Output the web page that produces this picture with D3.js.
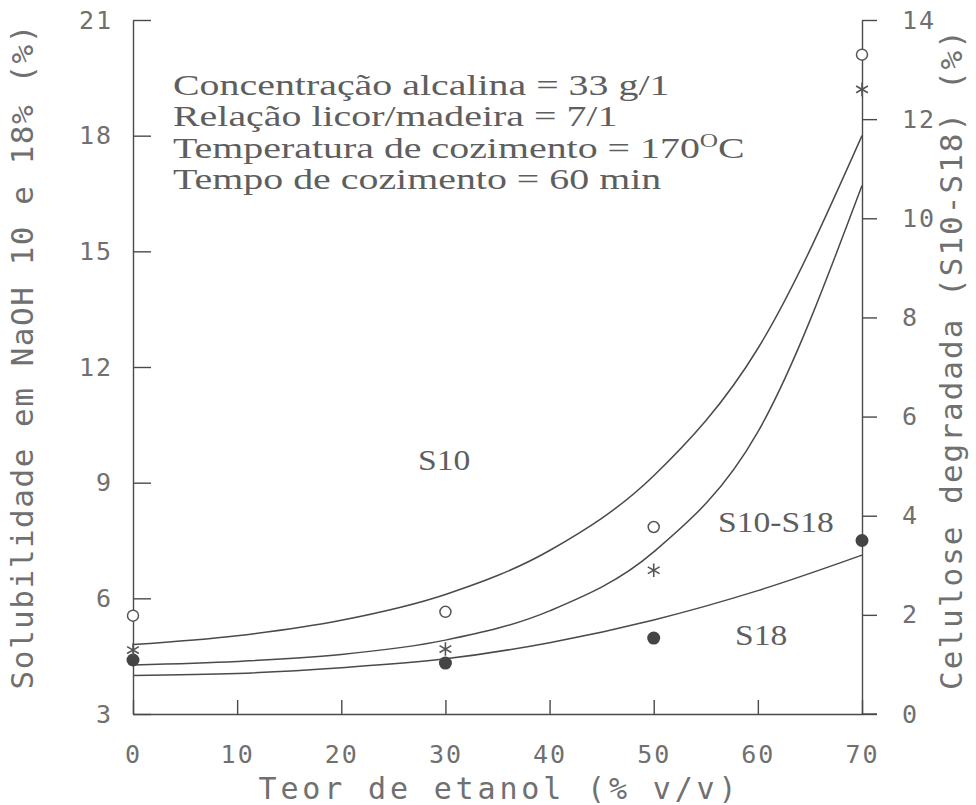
<!DOCTYPE html>
<html>
<head>
<meta charset="utf-8">
<script src="https://cdn.jsdelivr.net/npm/d3@7"></script>
<style>
  html, body { margin: 0; padding: 0; background: #fff; }
  svg { display: block; }
  .plot { font-family: "DejaVu Sans Mono", monospace; fill: #707070; }
  .serif { font-family: "Liberation Serif", "Times New Roman", serif; fill: #5e5e5e; }
</style>
</head>
<body>
<svg id="chart" width="976" height="805"></svg>
<script>
// Ethanol content of the cooking liquor (% v/v)
const ethanol = [0, 30, 50, 70];
// Measured solubility in NaOH 10% and 18% (%), left axis
const s10 = [5.55, 5.65, 7.85, 20.1];
const s18 = [4.40, 4.32, 4.97, 7.5];
// Degraded cellulose S10 - S18 (%), right axis
const diff = [1.29, 1.31, 2.9, 12.6];

// Fitted trend curves, sampled every 10 % ethanol
const fitX = [0, 10, 20, 30, 40, 50, 60, 70];
const s10Fit = [4.8, 5.03, 5.43, 6.10, 7.24, 9.18, 12.48, 18.0];
const s18Fit = [4.0, 4.05, 4.2, 4.43, 4.85, 5.44, 6.2, 7.12];
const diffFit = [0.99, 1.06, 1.20, 1.49, 2.08, 3.27, 5.69, 10.66];

// Axis ticks
const xTicks = [0, 10, 20, 30, 40, 50, 60, 70];
const leftTicks = [3, 6, 9, 12, 15, 18, 21];
const rightTicks = [0, 2, 4, 6, 8, 10, 12, 14];

// Cooking conditions
const conditions = [
  ["Concentração alcalina = 33 g/1"],
  ["Relação licor/madeira = 7/1"],
  ["Temperatura de cozimento = 170", "O", "C"],
  ["Tempo de cozimento = 60 min"]
];

const svg = d3.select("#chart");
const ink = "#4a4a4a";

const x = d3.scaleLinear().domain([0, 70]).range([133, 862]);
const yL = d3.scaleLinear().domain([3, 21]).range([714, 20]);
const yR = d3.scaleLinear().domain([0, 14]).range([714, 20]);

const fmt = d => String(d);

// Bottom axis (ticks pointing up into the plot)
const gx = svg.append("g").attr("transform", `translate(0,${yL(3)})`)
  .call(d3.axisBottom(x).tickValues(xTicks).tickSize(-14).tickSizeOuter(0).tickPadding(31).tickFormat(fmt));
// extend the baseline a little past the right axis
svg.append("line").attr("x1", x(70)).attr("x2", x(70) + 15)
  .attr("y1", yL(3)).attr("y2", yL(3)).attr("stroke", ink).attr("stroke-width", 1.4);

// Left axis (ticks pointing right into the plot)
const gl = svg.append("g").attr("transform", `translate(${x(0)},0)`)
  .call(d3.axisLeft(yL).tickValues(leftTicks).tickSize(-18).tickSizeOuter(0).tickPadding(20).tickFormat(fmt));

// Right axis (ticks pointing outwards)
const gr = svg.append("g").attr("transform", `translate(${x(70)},0)`)
  .call(d3.axisRight(yR).tickValues(rightTicks).tickSize(15).tickSizeOuter(0).tickPadding(25).tickFormat(fmt));

[gx, gl, gr].forEach(g => {
  g.select(".domain").attr("stroke", ink).attr("stroke-width", 1.4);
  g.selectAll(".tick line").attr("stroke", ink).attr("stroke-width", 1.4);
  g.selectAll(".tick text").attr("class", "plot").attr("font-size", 25)
    .attr("letter-spacing", 2).attr("fill", "#707070");
});

// Axis titles
svg.append("text").attr("class", "plot")
  .attr("x", x(35)).attr("y", 799).attr("text-anchor", "middle")
  .attr("font-size", 30).attr("textLength", 478).attr("lengthAdjust", "spacing")
  .text("Teor de etanol (% v/v)");

svg.append("text").attr("class", "plot")
  .attr("transform", "translate(33,357) rotate(-90)").attr("text-anchor", "middle")
  .attr("font-size", 31).attr("textLength", 665).attr("lengthAdjust", "spacing")
  .text("Solubilidade em NaOH 10 e 18% (%)");

svg.append("text").attr("class", "plot")
  .attr("transform", "translate(962,360) rotate(-90)").attr("text-anchor", "middle")
  .attr("font-size", 31).attr("textLength", 660).attr("lengthAdjust", "spacing")
  .text("Celulose degradada (S10-S18) (%)");

// Trend curves
const curve = d3.curveMonotoneX;
const lineL = d3.line().x((d, i) => x(fitX[i])).y(d => yL(d)).curve(curve);
const lineR = d3.line().x((d, i) => x(fitX[i])).y(d => yR(d)).curve(curve);
[[s10Fit, lineL], [s18Fit, lineL], [diffFit, lineR]].forEach(([vals, gen]) => {
  svg.append("path").attr("d", gen(vals)).attr("fill", "none")
    .attr("stroke", ink).attr("stroke-width", 1.5);
});

// Measured points
svg.selectAll(".p10").data(s10).join("circle")
  .attr("cx", (d, i) => x(ethanol[i])).attr("cy", d => yL(d)).attr("r", 5.5)
  .attr("fill", "#fff").attr("stroke", "#555").attr("stroke-width", 1.5);
svg.selectAll(".p18").data(s18).join("circle")
  .attr("cx", (d, i) => x(ethanol[i])).attr("cy", d => yL(d)).attr("r", 6.5)
  .attr("fill", "#444");
const star = d3.symbol().type(d3.symbolAsterisk).size(130);
svg.selectAll(".pd").data(diff).join("path")
  .attr("transform", (d, i) => `translate(${x(ethanol[i])},${yR(d)})`)
  .attr("d", star).attr("fill", "none").attr("stroke", "#555").attr("stroke-width", 1.6);

// Curve labels
const labels = [["S10", 418, 470], ["S10-S18", 718, 532], ["S18", 735, 645]];
labels.forEach(([t, lx, ly]) => {
  svg.append("text").attr("class", "serif").attr("x", lx).attr("y", ly)
    .attr("font-size", 30).attr("transform", `translate(${lx},0) scale(1.12,1) translate(${-lx},0)`).text(t);
});

// Conditions block
const block = svg.append("g").attr("transform", "translate(173,0) scale(1.33,1)");
conditions.forEach((parts, i) => {
  const t = block.append("text").attr("class", "serif").attr("x", 0).attr("y", 95 + i * 31.5)
    .attr("font-size", 30);
  t.append("tspan").text(parts[0]);
  if (parts.length > 1) {
    t.append("tspan").attr("font-size", 19).attr("dy", -11).text(parts[1]);
    t.append("tspan").attr("dy", 11).text(parts[2]);
  }
});
</script>
</body>
</html>
